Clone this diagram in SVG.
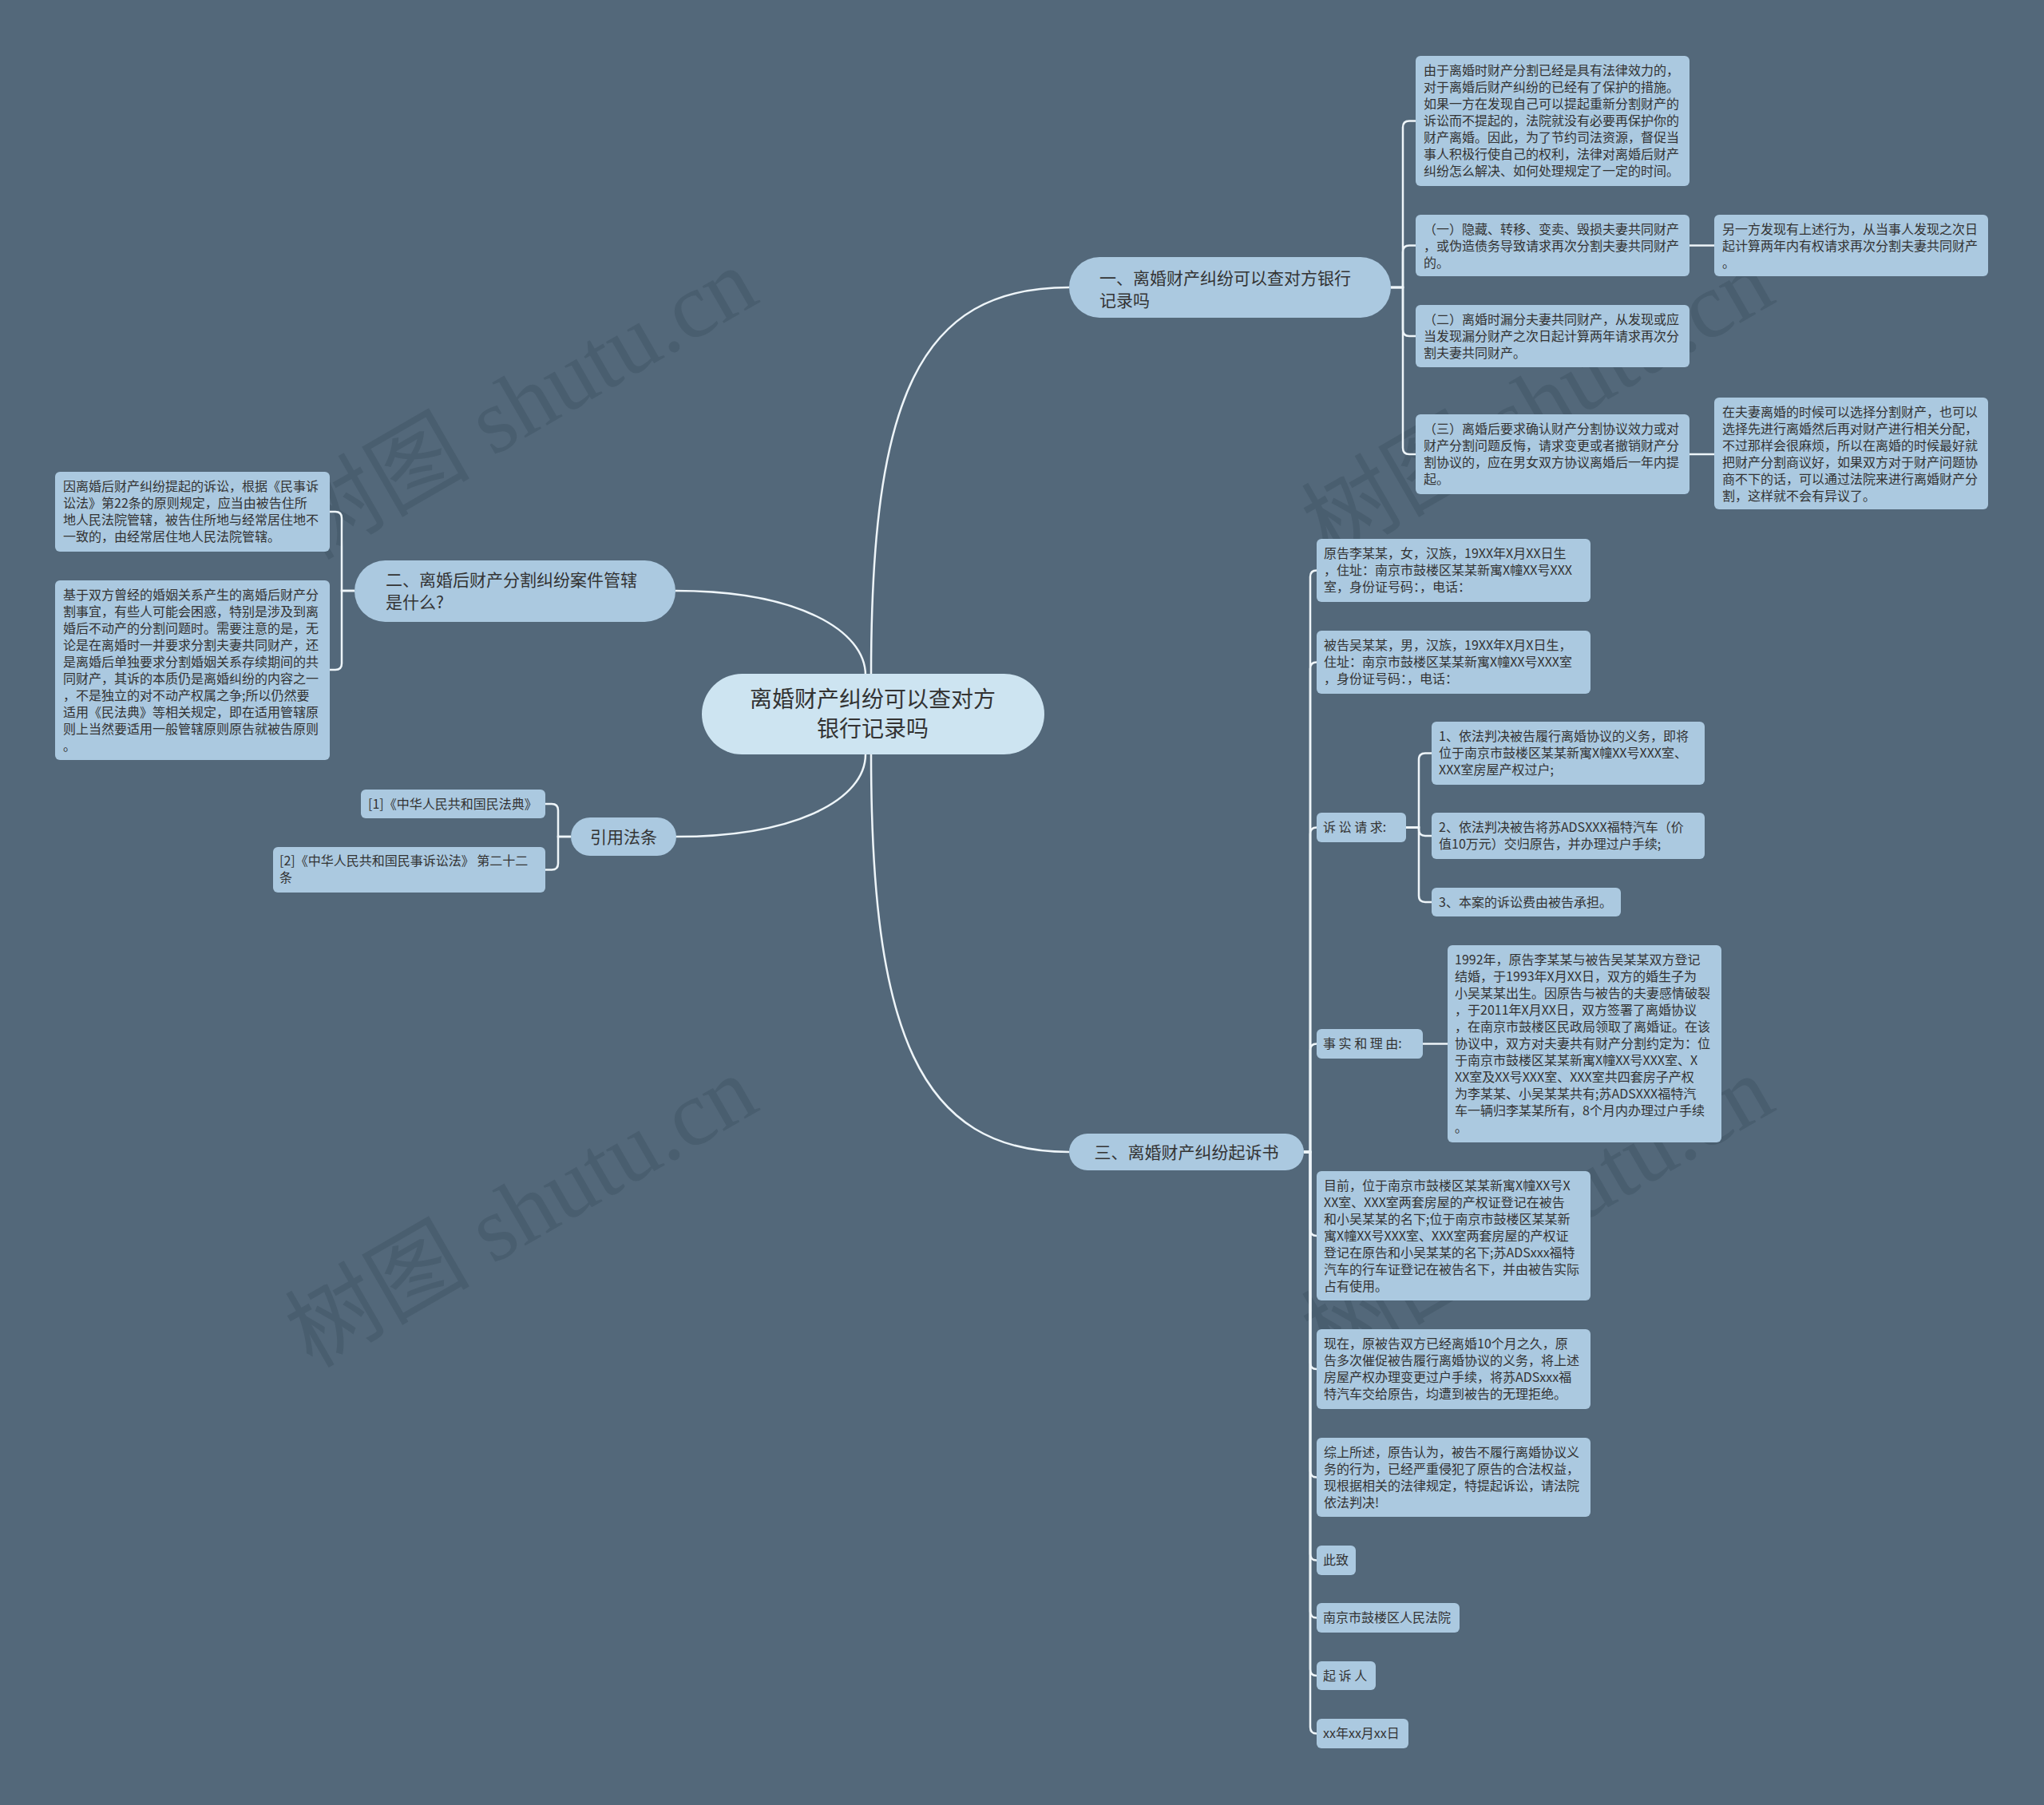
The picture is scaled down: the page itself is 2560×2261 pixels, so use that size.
<svg xmlns="http://www.w3.org/2000/svg" width="2560" height="2261" viewBox="0 0 2560 2261">
<style>
.bg{fill:#53687a}
.box{fill:#abc9e0}
.main{fill:#abc9e0}
.root{fill:#cde4f1}
.t{font-family:"Noto Sans CJK SC","Noto Sans",sans-serif;font-size:16px;fill:#333}
.m{font-family:"Noto Sans CJK SC","Noto Sans",sans-serif;font-size:21px;fill:#333}
.r{font-family:"Noto Sans CJK SC","Noto Sans",sans-serif;font-size:28px;fill:#333}
.ln{fill:none;stroke:#eef5f9;stroke-width:2.5}
.wm{font-family:"Liberation Serif","Noto Sans CJK SC",serif;font-size:116px;fill:#3e5262;fill-opacity:0.45}
</style>
<rect class="bg" x="0" y="0" width="2560" height="2261"/>
<g id="watermark">
<text class="wm" x="653" y="545" text-anchor="middle" transform="rotate(-30 653 506)">树图 shutu.cn</text>
<text class="wm" x="1926" y="545" text-anchor="middle" transform="rotate(-30 1926 506)">树图 shutu.cn</text>
<text class="wm" x="653" y="1557" text-anchor="middle" transform="rotate(-30 653 1518)">树图 shutu.cn</text>
<text class="wm" x="1926" y="1557" text-anchor="middle" transform="rotate(-30 1926 1518)">树图 shutu.cn</text>
</g>
<g id="connectors">
<path class="ln" d="M1091,846 C1091,500 1150,360 1339,360"/>
<path class="ln" d="M1091,945 C1091,1290 1150,1443 1339,1443"/>
<path class="ln" d="M846,740 C1000,740 1084,790 1084,846"/>
<path class="ln" d="M846,1048 C1000,1048 1084,1000 1084,945"/>
<path class="ln" d="M1742,360 H1757 V159.5 Q1757,151.5 1765,151.5 H1773"/>
<path class="ln" d="M1742,360 H1757 V315.5 Q1757,307.5 1765,307.5 H1773"/>
<path class="ln" d="M1742,360 H1757 V413 Q1757,421 1765,421 H1773"/>
<path class="ln" d="M1742,360 H1757 V561 Q1757,569 1765,569 H1773"/>
<path class="ln" d="M2116,307.5 H2147"/>
<path class="ln" d="M2116,569 H2147"/>
<path class="ln" d="M444,740 H428 V649 Q428,641 420,641 H413"/>
<path class="ln" d="M444,740 H428 V831 Q428,839 420,839 H413"/>
<path class="ln" d="M715,1048 H699 V1015 Q699,1007 691,1007 H683"/>
<path class="ln" d="M715,1048 H699 V1081.5 Q699,1089.5 691,1089.5 H683"/>
<path class="ln" d="M1633,1443 H1641 V722.5 Q1641,714.5 1649,714.5"/>
<path class="ln" d="M1633,1443 H1641 V837.5 Q1641,829.5 1649,829.5"/>
<path class="ln" d="M1633,1443 H1641 V1044.5 Q1641,1036.5 1649,1036.5"/>
<path class="ln" d="M1633,1443 H1641 V1315.5 Q1641,1307.5 1649,1307.5"/>
<path class="ln" d="M1633,1443 H1641 V1540 Q1641,1548 1649,1548"/>
<path class="ln" d="M1633,1443 H1641 V1707 Q1641,1715 1649,1715"/>
<path class="ln" d="M1633,1443 H1641 V1842.5 Q1641,1850.5 1649,1850.5"/>
<path class="ln" d="M1633,1443 H1641 V1946.5 Q1641,1954.5 1649,1954.5"/>
<path class="ln" d="M1633,1443 H1641 V2018.5 Q1641,2026.5 1649,2026.5"/>
<path class="ln" d="M1633,1443 H1641 V2091 Q1641,2099 1649,2099"/>
<path class="ln" d="M1633,1443 H1641 V2163.5 Q1641,2171.5 1649,2171.5"/>
<path class="ln" d="M1761,1036.5 H1777 V951.5 Q1777,943.5 1785,943.5 H1793"/>
<path class="ln" d="M1761,1036.5 H1777 V1039 Q1777,1047 1785,1047 H1793"/>
<path class="ln" d="M1761,1036.5 H1777 V1122 Q1777,1130 1785,1130 H1793"/>
<path class="ln" d="M1782,1307.5 H1813"/>
</g>
<g id="root">
<rect class="root" x="879" y="844" width="429" height="101" rx="50.5"/>
<text class="r" text-anchor="middle"><tspan x="1093" y="886">离婚财产纠纷可以查对方</tspan><tspan x="1093" y="923">银行记录吗</tspan></text>
</g>
<g id="b1">
<rect class="main" x="1339" y="322" width="403" height="76" rx="38"/>
<text class="m"><tspan x="1377" y="356">一、离婚财产纠纷可以查对方银行</tspan><tspan x="1377" y="384">记录吗</tspan></text>
</g>
<g id="b2">
<rect class="main" x="444" y="702" width="402" height="77" rx="38.5"/>
<text class="m"><tspan x="483" y="734">二、离婚后财产分割纠纷案件管辖</tspan><tspan x="483" y="762">是什么?</tspan></text>
</g>
<g id="b3">
<rect class="main" x="715" y="1024" width="132" height="48" rx="24"/>
<text class="m" x="781" y="1056" text-anchor="middle">引用法条</text>
</g>
<g id="b4">
<rect class="main" x="1339" y="1420" width="294" height="46" rx="23"/>
<text class="m" x="1486" y="1451" text-anchor="middle">三、离婚财产纠纷起诉书</text>
</g>
<g id="c1">
<rect class="box" x="1773" y="70" width="343" height="163" rx="6"/>
<text class="t"><tspan x="1783" y="93.5">由于离婚时财产分割已经是具有法律效力的，</tspan><tspan x="1783" y="114.5">对于离婚后财产纠纷的已经有了保护的措施。</tspan><tspan x="1783" y="135.5">如果一方在发现自己可以提起重新分割财产的</tspan><tspan x="1783" y="156.5">诉讼而不提起的，法院就没有必要再保护你的</tspan><tspan x="1783" y="177.5">财产离婚。因此，为了节约司法资源，督促当</tspan><tspan x="1783" y="198.5">事人积极行使自己的权利，法律对离婚后财产</tspan><tspan x="1783" y="219.5">纠纷怎么解决、如何处理规定了一定的时间。</tspan></text>
</g>
<g id="c2">
<rect class="box" x="1773" y="269" width="343" height="77" rx="6"/>
<text class="t"><tspan x="1783" y="292.5">（一）隐藏、转移、变卖、毁损夫妻共同财产</tspan><tspan x="1783" y="313.5">，或伪造债务导致请求再次分割夫妻共同财产</tspan><tspan x="1783" y="334.5">的。</tspan></text>
</g>
<g id="c2r">
<rect class="box" x="2147" y="269" width="343" height="77" rx="6"/>
<text class="t"><tspan x="2157" y="292.5">另一方发现有上述行为，从当事人发现之次日</tspan><tspan x="2157" y="313.5">起计算两年内有权请求再次分割夫妻共同财产</tspan><tspan x="2157" y="334.5">。</tspan></text>
</g>
<g id="c3">
<rect class="box" x="1773" y="382" width="343" height="78" rx="6"/>
<text class="t"><tspan x="1783" y="405.5">（二）离婚时漏分夫妻共同财产，从发现或应</tspan><tspan x="1783" y="426.5">当发现漏分财产之次日起计算两年请求再次分</tspan><tspan x="1783" y="447.5">割夫妻共同财产。</tspan></text>
</g>
<g id="c4">
<rect class="box" x="1773" y="519" width="343" height="100" rx="6"/>
<text class="t"><tspan x="1783" y="542.5">（三）离婚后要求确认财产分割协议效力或对</tspan><tspan x="1783" y="563.5">财产分割问题反悔，请求变更或者撤销财产分</tspan><tspan x="1783" y="584.5">割协议的，应在男女双方协议离婚后一年内提</tspan><tspan x="1783" y="605.5">起。</tspan></text>
</g>
<g id="c4r">
<rect class="box" x="2147" y="498" width="343" height="140" rx="6"/>
<text class="t"><tspan x="2157" y="521.5">在夫妻离婚的时候可以选择分割财产，也可以</tspan><tspan x="2157" y="542.5">选择先进行离婚然后再对财产进行相关分配，</tspan><tspan x="2157" y="563.5">不过那样会很麻烦，所以在离婚的时候最好就</tspan><tspan x="2157" y="584.5">把财产分割商议好，如果双方对于财产问题协</tspan><tspan x="2157" y="605.5">商不下的话，可以通过法院来进行离婚财产分</tspan><tspan x="2157" y="626.5">割，这样就不会有异议了。</tspan></text>
</g>
<g id="l1">
<rect class="box" x="69" y="591" width="344" height="100" rx="6"/>
<text class="t"><tspan x="79" y="614.5">因离婚后财产纠纷提起的诉讼，根据《民事诉</tspan><tspan x="79" y="635.5">讼法》第22条的原则规定，应当由被告住所</tspan><tspan x="79" y="656.5">地人民法院管辖，被告住所地与经常居住地不</tspan><tspan x="79" y="677.5">一致的，由经常居住地人民法院管辖。</tspan></text>
</g>
<g id="l2">
<rect class="box" x="69" y="727" width="344" height="225" rx="6"/>
<text class="t"><tspan x="79" y="750.5">基于双方曾经的婚姻关系产生的离婚后财产分</tspan><tspan x="79" y="771.5">割事宜，有些人可能会困惑，特别是涉及到离</tspan><tspan x="79" y="792.5">婚后不动产的分割问题时。需要注意的是，无</tspan><tspan x="79" y="813.5">论是在离婚时一并要求分割夫妻共同财产，还</tspan><tspan x="79" y="834.5">是离婚后单独要求分割婚姻关系存续期间的共</tspan><tspan x="79" y="855.5">同财产，其诉的本质仍是离婚纠纷的内容之一</tspan><tspan x="79" y="876.5">，不是独立的对不动产权属之争;所以仍然要</tspan><tspan x="79" y="897.5">适用《民法典》等相关规定，即在适用管辖原</tspan><tspan x="79" y="918.5">则上当然要适用一般管辖原则原告就被告原则</tspan><tspan x="79" y="939.5">。</tspan></text>
</g>
<g id="r1">
<rect class="box" x="452" y="989" width="231" height="36" rx="6"/>
<text class="t" x="461" y="1012.5">[1]《中华人民共和国民法典》</text>
</g>
<g id="r2">
<rect class="box" x="342" y="1061" width="341" height="57" rx="6"/>
<text class="t"><tspan x="350" y="1084">[2]《中华人民共和国民事诉讼法》 第二十二</tspan><tspan x="350" y="1105">条</tspan></text>
</g>
<g id="d1">
<rect class="box" x="1649" y="675" width="343" height="79" rx="6"/>
<text class="t"><tspan x="1658" y="698.5">原告李某某，女，汉族，19XX年X月XX日生</tspan><tspan x="1658" y="719.5">，住址：南京市鼓楼区某某新寓X幢XX号XXX</tspan><tspan x="1658" y="740.5">室，身份证号码：，电话：</tspan></text>
</g>
<g id="d2">
<rect class="box" x="1649" y="790" width="343" height="79" rx="6"/>
<text class="t"><tspan x="1658" y="813.5">被告吴某某，男，汉族，19XX年X月X日生，</tspan><tspan x="1658" y="834.5">住址：南京市鼓楼区某某新寓X幢XX号XXX室</tspan><tspan x="1658" y="855.5">，身份证号码：，电话：</tspan></text>
</g>
<g id="d3">
<rect class="box" x="1649" y="1018" width="112" height="37" rx="6"/>
<text class="t" x="1657" y="1042" xml:space="preserve">诉 讼 请 求:</text>
</g>
<g id="e1">
<rect class="box" x="1793" y="904" width="342" height="79" rx="6"/>
<text class="t"><tspan x="1802" y="927.5">1、依法判决被告履行离婚协议的义务，即将</tspan><tspan x="1802" y="948.5">位于南京市鼓楼区某某新寓X幢XX号XXX室、</tspan><tspan x="1802" y="969.5">XXX室房屋产权过户;</tspan></text>
</g>
<g id="e2">
<rect class="box" x="1793" y="1018" width="342" height="58" rx="6"/>
<text class="t"><tspan x="1802" y="1041.5">2、依法判决被告将苏ADSXXX福特汽车（价</tspan><tspan x="1802" y="1062.5">值10万元）交归原告，并办理过户手续;</tspan></text>
</g>
<g id="e3">
<rect class="box" x="1793" y="1112" width="237" height="36" rx="6"/>
<text class="t" x="1802" y="1135.5">3、本案的诉讼费由被告承担。</text>
</g>
<g id="d4">
<rect class="box" x="1649" y="1289" width="133" height="37" rx="6"/>
<text class="t" x="1657" y="1313" xml:space="preserve">事 实 和 理 由:</text>
</g>
<g id="f1">
<rect class="box" x="1813" y="1184" width="343" height="247" rx="6"/>
<text class="t"><tspan x="1822" y="1207.5">1992年，原告李某某与被告吴某某双方登记</tspan><tspan x="1822" y="1228.5">结婚，于1993年X月XX日，双方的婚生子为</tspan><tspan x="1822" y="1249.5">小吴某某出生。因原告与被告的夫妻感情破裂</tspan><tspan x="1822" y="1270.5">，于2011年X月XX日，双方签署了离婚协议</tspan><tspan x="1822" y="1291.5">，在南京市鼓楼区民政局领取了离婚证。在该</tspan><tspan x="1822" y="1312.5">协议中，双方对夫妻共有财产分割约定为：位</tspan><tspan x="1822" y="1333.5">于南京市鼓楼区某某新寓X幢XX号XXX室、X</tspan><tspan x="1822" y="1354.5">XX室及XX号XXX室、XXX室共四套房子产权</tspan><tspan x="1822" y="1375.5">为李某某、小吴某某共有;苏ADSXXX福特汽</tspan><tspan x="1822" y="1396.5">车一辆归李某某所有，8个月内办理过户手续</tspan><tspan x="1822" y="1417.5">。</tspan></text>
</g>
<g id="d5">
<rect class="box" x="1649" y="1467" width="343" height="162" rx="6"/>
<text class="t"><tspan x="1658" y="1490.5">目前，位于南京市鼓楼区某某新寓X幢XX号X</tspan><tspan x="1658" y="1511.5">XX室、XXX室两套房屋的产权证登记在被告</tspan><tspan x="1658" y="1532.5">和小吴某某的名下;位于南京市鼓楼区某某新</tspan><tspan x="1658" y="1553.5">寓X幢XX号XXX室、XXX室两套房屋的产权证</tspan><tspan x="1658" y="1574.5">登记在原告和小吴某某的名下;苏ADSxxx福特</tspan><tspan x="1658" y="1595.5">汽车的行车证登记在被告名下，并由被告实际</tspan><tspan x="1658" y="1616.5">占有使用。</tspan></text>
</g>
<g id="d6">
<rect class="box" x="1649" y="1665" width="343" height="100" rx="6"/>
<text class="t"><tspan x="1658" y="1688.5">现在，原被告双方已经离婚10个月之久，原</tspan><tspan x="1658" y="1709.5">告多次催促被告履行离婚协议的义务，将上述</tspan><tspan x="1658" y="1730.5">房屋产权办理变更过户手续，将苏ADSxxx福</tspan><tspan x="1658" y="1751.5">特汽车交给原告，均遭到被告的无理拒绝。</tspan></text>
</g>
<g id="d7">
<rect class="box" x="1649" y="1801" width="343" height="99" rx="6"/>
<text class="t"><tspan x="1658" y="1824.5">综上所述，原告认为，被告不履行离婚协议义</tspan><tspan x="1658" y="1845.5">务的行为，已经严重侵犯了原告的合法权益，</tspan><tspan x="1658" y="1866.5">现根据相关的法律规定，特提起诉讼，请法院</tspan><tspan x="1658" y="1887.5">依法判决!</tspan></text>
</g>
<g id="d8">
<rect class="box" x="1649" y="1936" width="49" height="37" rx="6"/>
<text class="t" x="1657" y="1960">此致</text>
</g>
<g id="d9">
<rect class="box" x="1649" y="2008" width="179" height="37" rx="6"/>
<text class="t" x="1657" y="2032">南京市鼓楼区人民法院</text>
</g>
<g id="d10">
<rect class="box" x="1649" y="2081" width="74" height="36" rx="6"/>
<text class="t" x="1657" y="2104.5" xml:space="preserve">起 诉 人</text>
</g>
<g id="d11">
<rect class="box" x="1649" y="2153" width="115" height="37" rx="6"/>
<text class="t" x="1657" y="2177">xx年xx月xx日</text>
</g>
</svg>
